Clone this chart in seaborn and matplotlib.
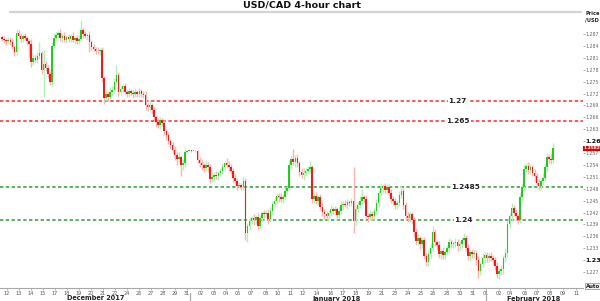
import numpy as np
import pandas as pd
import matplotlib
matplotlib.use("Agg")
import matplotlib.pyplot as plt
import matplotlib.transforms as mtrans
from matplotlib.lines import Line2D
import seaborn as sns

sns.set_theme(style="white")
plt.rcParams['font.family'] = ['DejaVu Sans']

# ---- data (prices in 1e-4 above 1.0000, e.g. 2858 -> 1.2858) ----
first_open = 2862
closes = [
    2858, 2855, 2852, 2856, 2850, 2838, 2824, 2872, 2866, 2858,
    2864, 2860, 2852, 2845, 2800, 2810, 2805, 2815, 2822, 2780,
    2795, 2785, 2770, 2750, 2840, 2860, 2868, 2872, 2860, 2866,
    2855, 2862, 2858, 2866, 2855, 2860, 2852, 2858, 2880, 2870,
    2866, 2868, 2850, 2838, 2832, 2828, 2826, 2830, 2760, 2708,
    2720, 2712, 2725, 2730, 2750, 2767, 2724, 2732, 2738, 2725,
    2720, 2726, 2722, 2718, 2724, 2720, 2726, 2720, 2716, 2690,
    2685, 2692, 2678, 2660, 2648, 2640, 2652, 2645, 2625, 2615,
    2600, 2590, 2578, 2565, 2555, 2560, 2540, 2545, 2573, 2575,
    2576, 2575, 2575, 2574, 2552, 2545, 2540, 2532, 2540, 2535,
    2505, 2510, 2515, 2512, 2520, 2525, 2535, 2545, 2540, 2535,
    2525, 2508, 2500, 2488, 2490, 2485, 2500, 2368, 2385, 2398,
    2405, 2400, 2408, 2386, 2405, 2418, 2415, 2420, 2404, 2425,
    2442, 2450, 2462, 2458, 2455, 2460, 2475, 2483, 2540, 2555,
    2548, 2558, 2545, 2522, 2515, 2520, 2525, 2530, 2534, 2455,
    2462, 2450, 2458, 2435, 2422, 2415, 2410, 2420, 2428, 2425,
    2428, 2414, 2425, 2438, 2442, 2440, 2446, 2445, 2448, 2398,
    2430, 2440, 2450, 2458, 2455, 2412, 2408, 2415, 2410, 2425,
    2445, 2470, 2482, 2486, 2478, 2485, 2470, 2455, 2448, 2440,
    2445, 2465, 2475, 2440, 2412, 2405, 2415, 2400, 2370, 2348,
    2355, 2340, 2350, 2310, 2296, 2315, 2330, 2370, 2345, 2338,
    2315, 2322, 2312, 2320, 2330, 2345, 2340, 2342, 2346, 2335,
    2340, 2350, 2356, 2330, 2310, 2320, 2315, 2318, 2300, 2272,
    2290, 2305, 2312, 2305, 2310, 2306, 2300, 2285, 2265, 2272,
    2278, 2305, 2318, 2390, 2410, 2432, 2420, 2410, 2402, 2460,
    2484, 2530, 2538, 2528, 2535, 2520, 2512, 2495, 2486, 2500,
    2508, 2535, 2560, 2555, 2553, 2582,
]
upper_wick = [
    6, 8, 5, 7, 6, 9, 5, 10, 8, 6,
    7, 9, 5, 6, 12, 8, 6, 10, 28, 6,
    35, 8, 6, 5, 10, 12, 8, 6, 10, 7,
    8, 6, 9, 5, 8, 6, 7, 9, 25, 6,
    8, 5, 10, 6, 7, 5, 9, 6, 8, 5,
    10, 7, 12, 8, 10, 25, 6, 8, 7, 9,
    5, 8, 6, 7, 9, 5, 8, 6, 7, 10,
    6, 12, 5, 8, 6, 10, 8, 6, 7, 5,
    9, 6, 8, 10, 7, 12, 6, 9, 8, 2,
    1, 2, 1, 2, 3, 8, 10, 6, 12, 8,
    7, 12, 6, 9, 5, 8, 10, 6, 12, 10,
    8, 6, 10, 7, 8, 5, 9, 6, 8, 10,
    7, 12, 6, 10, 8, 6, 9, 7, 10, 8,
    6, 12, 8, 6, 10, 7, 9, 5, 12, 10,
    25, 8, 10, 6, 9, 12, 7, 8, 15, 6,
    8, 10, 6, 9, 12, 7, 8, 6, 10, 7,
    9, 6, 8, 12, 7, 10, 8, 6, 9, 87,
    10, 8, 12, 22, 6, 9, 7, 12, 8, 6,
    10, 8, 12, 7, 9, 6, 8, 10, 7, 9,
    6, 10, 12, 8, 6, 10, 9, 7, 8, 12,
    10, 6, 9, 8, 7, 10, 12, 15, 8, 6,
    9, 7, 10, 6, 8, 12, 9, 7, 10, 6,
    8, 9, 12, 7, 10, 6, 9, 8, 7, 10,
    6, 12, 8, 9, 7, 10, 6, 8, 9, 7,
    10, 8, 12, 10, 8, 12, 7, 9, 6, 10,
    8, 12, 7, 10, 8, 6, 9, 7, 10, 8,
    12, 9, 10, 8, 12, 13,
]
lower_wick = [
    5, 7, 9, 6, 8, 6, 10, 8, 5, 7,
    9, 6, 10, 33, 12, 8, 6, 9, 7, 10,
    68, 8, 10, 9, 12, 8, 6, 9, 7, 10,
    6, 8, 7, 9, 6, 10, 7, 8, 6, 9,
    7, 10, 26, 8, 6, 9, 7, 10, 12, 15,
    8, 10, 6, 12, 9, 8, 10, 7, 9, 6,
    10, 8, 7, 9, 6, 10, 8, 9, 7, 12,
    8, 10, 9, 6, 12, 8, 10, 7, 9, 12,
    7, 10, 9, 12, 15, 8, 28, 12, 10, 2,
    1, 2, 1, 2, 8, 10, 12, 9, 8, 12,
    10, 9, 12, 8, 10, 7, 9, 8, 6, 10,
    9, 12, 8, 10, 7, 9, 8, 18, 22, 10,
    8, 12, 9, 10, 8, 7, 10, 9, 12, 8,
    10, 7, 9, 12, 8, 10, 7, 9, 6, 10,
    8, 12, 9, 10, 8, 12, 7, 9, 10, 12,
    10, 9, 12, 8, 10, 12, 9, 7, 10, 8,
    9, 12, 8, 10, 9, 7, 10, 8, 9, 30,
    10, 8, 9, 12, 10, 9, 12, 8, 10, 9,
    8, 10, 7, 12, 9, 10, 8, 12, 9, 10,
    12, 9, 8, 10, 12, 9, 8, 10, 12, 10,
    9, 12, 10, 8, 12, 10, 9, 8, 10, 12,
    10, 12, 9, 10, 8, 12, 9, 10, 8, 12,
    9, 10, 12, 8, 10, 12, 9, 10, 12, 17,
    10, 8, 12, 9, 10, 8, 12, 10, 9, 12,
    10, 12, 9, 10, 8, 12, 9, 10, 12, 8,
    10, 9, 8, 12, 10, 9, 12, 8, 10, 9,
    10, 8, 12, 9, 10, 8,
]

level_values = [1.27, 1.265, 1.2485, 1.24]
level_labels = ["1.27", "1.265", "1.2485", "1.24"]
level_kind = ["red", "red", "green", "green"]
level_label_pos = [219.0, 219.2, 223.0, 222.0]

xtick_labels = ["12", "13", "14", "15", "17", "18", "19", "20", "21", "22", "24", "26",
                "27", "28", "29", "31",
                "02", "03", "04", "05", "07", "08", "10", "11", "12", "14", "16", "17",
                "18", "19", "21", "23", "24", "25", "26", "28", "30", "31",
                "01", "02", "04", "06", "07", "08", "09", "11"]
xtick_pos = [2.4, 8.2, 13.9, 19.7, 25.5, 31.3, 37.0, 42.8, 48.6, 54.3, 60.1, 65.9,
             71.6, 77.4, 83.2, 88.9,
             95.7, 101.9, 107.7, 113.5, 119.7, 126.9, 132.7, 138.9, 144.7, 151.4,
             158.2, 163.9, 170.2, 176.0, 182.7, 188.9, 195.2, 201.4, 207.2, 213.9,
             220.2, 226.4,
             232.7, 238.9, 244.2, 251.4, 257.2, 263.5, 269.7, 276.0]
month_labels = ["December 2017", "January 2018", "February 2018"]
month_pos = [45.2, 160.6, 255.8]
month_sep = [90.4, 232.7]
last_price = 1.2582

# ---- frame ----
c = 1.0 + np.array(closes) / 10000.0
o = np.concatenate([[1.0 + first_open / 10000.0], c[:-1]])
hi = np.maximum(o, c) + np.array(upper_wick) / 10000.0
lo = np.minimum(o, c) - np.array(lower_wick) / 10000.0
df = pd.DataFrame({"x": np.arange(len(c)), "open": o, "close": c, "high": hi, "low": lo})
df["up"] = df["close"] >= df["open"]

GREEN = "#1fcc1f"
RED = "#ff1414"
GREEN_W = "#b4f0b4"
RED_W = "#ffb4b4"

fig = plt.figure(figsize=(6.0, 3.01), dpi=100)
ax = fig.add_axes([0.0, 1 - 288 / 301, 583 / 600, (288 - 12) / 301])

# levels
for v, lab, kind, xp in zip(level_values, level_labels, level_kind, level_label_pos):
    col = "#ff2a2a" if kind == "red" else "#2f9e2f"
    ax.axhline(v, color=col, linewidth=1.1, linestyle=(0, (2.2, 1.6)), zorder=1)
    ax.text(xp, v, lab, ha="center", va="center", fontsize=5.3, fontweight="bold",
            color="#222222", zorder=5,
            bbox=dict(facecolor="white", edgecolor="none", pad=0.6))

# wicks
wcol = np.where(df["up"], GREEN_W, RED_W)
ax.vlines(df["x"], df["low"], df["high"], colors=wcol, linewidth=1.0, zorder=2)
# bodies
bh = np.maximum((df["close"] - df["open"]).abs(), 0.00022)
bb = np.minimum(df["open"], df["close"])
bcol = np.where(df["up"], GREEN, RED)
ax.bar(df["x"], bh, bottom=bb, width=0.75, color=bcol, linewidth=0, zorder=3)

ax.set_xlim(-0.96, 279.3)
ax.set_ylim(1.22297, 1.29255)

# axes styling
for s in ["left", "right", "top"]:
    ax.spines[s].set_visible(False)
ax.spines["bottom"].set_color("#a8a8a8")
ax.spines["bottom"].set_linewidth(0.8)

ax.set_xticks(xtick_pos)
ax.set_xticklabels(xtick_labels, fontsize=3.5, color="#555555")
ax.tick_params(axis="x", length=1.5, width=0.5, color="#999999", pad=0.6, bottom=True)

ax.yaxis.tick_right()
yt = np.round(np.arange(1.227, 1.2875, 0.003), 3)
ax.set_yticks(yt)
ylabs = []
for v in yt:
    if abs(v - 1.26) < 1e-9 or abs(v - 1.23) < 1e-9:
        ylabs.append(f"{v:.2f}")
    else:
        ylabs.append(f"{v:.3f}")
ax.set_yticklabels(ylabs, fontsize=3.3, color="#666666")
ax.tick_params(axis="y", right=True, length=1.2, width=0.5, color="#888888", pad=0.6)
for t in ax.get_yticklabels():
    if t.get_text() in ("1.26", "1.23"):
        t.set_fontweight("bold")
        t.set_fontsize(4.6)
        t.set_color("#111111")
ax.grid(False)

# last price tag
trans = mtrans.blended_transform_factory(ax.transAxes, ax.transData)
ax.text(1.001, last_price, f"{last_price:.4f}", transform=trans, ha="left", va="center",
        fontsize=3.2, fontweight="bold", color="white", zorder=6, clip_on=False,
        bbox=dict(facecolor="#e00000", edgecolor="none", pad=0.5))

# month labels and separators
transx = mtrans.blended_transform_factory(ax.transData, fig.transFigure)
for lab, xp in zip(month_labels, month_pos):
    ax.text(xp, 1 - 298.5 / 301, lab, transform=transx, ha="center", va="center",
            fontsize=4.7, fontweight="bold", color="#222222")
for xp in month_sep:
    fig.add_artist(Line2D([xp, xp], [1 - 293 / 301, 0.0], transform=transx,
                          color="#aaaaaa", linewidth=0.9))

# top line and title
fig.add_artist(Line2D([10 / 600, 581 / 600], [1 - 11.5 / 301, 1 - 11.5 / 301],
                      transform=fig.transFigure, color="#d4d4d4", linewidth=1.6))
fig.text(302 / 600, 1 - 5 / 301, "USD/CAD 4-hour chart", ha="center", va="center",
         fontsize=6.8, fontweight="bold", color="#111111")
fig.text(585 / 600, 1 - 11 / 301, "Price\n/USD", ha="left", va="top", fontsize=3.6,
         fontweight="bold", color="#222222", linespacing=1.4)
fig.text(585.5 / 600, 1 - 286 / 301, "Auto", ha="left", va="center", fontsize=3.9,
         fontweight="bold", color="#222222",
         bbox=dict(facecolor="#f2f2f2", edgecolor="#888888", linewidth=0.5, pad=0.6))

fig.savefig("out.png", dpi=100)
